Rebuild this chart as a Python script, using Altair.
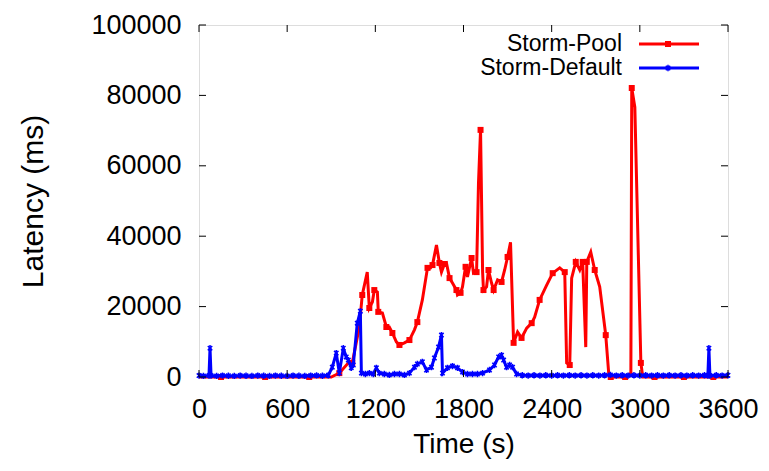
import altair as alt
import pandas as pd

# ---- data ----
series_names = ["Storm-Pool", "Storm-Default"]

red_time = [0, 150, 300, 450, 600, 750, 900, 955, 1023, 1043, 1091, 1111, 1145, 1159, 1180,
            1193, 1214, 1220, 1248, 1275, 1295, 1316, 1343, 1364, 1398, 1432, 1466, 1486, 1520,
            1555, 1575, 1589, 1616, 1636, 1650, 1670, 1684, 1705, 1725, 1752, 1759, 1780, 1793,
            1814, 1827, 1855, 1868, 1889, 1902, 1916, 1930, 1936, 1957, 1970, 1991, 2005, 2032,
            2059, 2080, 2100, 2120, 2141, 2168, 2195, 2230, 2264, 2284, 2318, 2366, 2407, 2455,
            2489, 2502, 2523, 2536, 2564, 2591, 2611, 2632, 2639, 2666, 2693, 2727, 2768, 2789,
            2802, 2850, 2900, 2939, 2945, 2966, 3007, 3020, 3100, 3200, 3300, 3400, 3500, 3600]
red_latency = [0, 0, 0, 0, 0, 0, 0, 1100, 4300, 4000, 14200, 23300, 29800, 19600, 21300,
               24700, 24100, 18500, 18200, 14200, 14200, 12500, 10000, 9100, 9700, 10500, 13400, 15600, 21900,
               31000, 31000, 31800, 37500, 32400, 29800, 32100, 32400, 28100, 26700, 24700, 23300, 23900, 25600,
               31300, 28400, 33800, 29500, 29800, 55100, 70200, 29800, 24700, 25600, 30400, 26700, 24700, 27600,
               27000, 30400, 34100, 38300, 9700, 12800, 11100, 13900, 15300, 17000, 21900, 26100, 29500, 31000,
               29800, 4000, 3400, 28100, 32700, 30400, 32700, 8500, 32700, 35500, 30400, 25600, 11900, 600,
               0, 0, 0, 1100, 82100, 76700, 4000, 0, 0, 0, 0, 0, 0, 0]

blue_time = [0, 30, 68, 75, 82, 120, 160, 200, 240, 280, 320, 360, 400, 440, 480, 520, 560, 600,
             640, 680, 720, 760, 800, 840, 880, 907, 934, 955, 982, 1002, 1016, 1036, 1050, 1077,
             1098, 1105, 1132, 1159, 1186, 1207, 1227, 1261, 1295, 1330, 1364, 1398, 1432, 1466,
             1486, 1520, 1548, 1582, 1602, 1630, 1650, 1657, 1691, 1725, 1759, 1793, 1827, 1861,
             1895, 1930, 1977, 2011, 2039, 2059, 2073, 2093, 2114, 2134, 2161, 2200, 2240, 2280,
             2320, 2360, 2400, 2440, 2480, 2520, 2560, 2600, 2640, 2680, 2720, 2760, 2800, 2840,
             2880, 2920, 2960, 3000, 3040, 3080, 3120, 3160, 3200, 3240, 3280, 3320, 3360, 3400,
             3440, 3463, 3470, 3477, 3520, 3560, 3600]
blue_latency = [400, 300, 400, 8200, 400, 300, 400, 350, 300, 400, 350, 300, 400, 350, 300, 400, 350, 300,
                400, 350, 300, 400, 450, 350, 500, 2800, 6800, 1100, 8200, 5700, 4800, 2600, 3400, 15300,
                18700, 1100, 850, 1100, 850, 2600, 1100, 850, 600, 850, 850, 600, 1100, 2800,
                3700, 4300, 2000, 2800, 5400, 8500, 11900, 1100, 2600, 3100, 2600, 1400, 850, 850,
                850, 1100, 2000, 3400, 5700, 6200, 4800, 2800, 3400, 2800, 850, 500, 400, 500,
                400, 500, 400, 500, 400, 500, 400, 500, 400, 500, 400, 500, 600, 400,
                500, 400, 500, 400, 500, 400, 500, 400, 500, 400, 500, 400, 500, 400,
                500, 400, 8200, 400, 500, 400, 500]

x_ticks = [0, 600, 1200, 1800, 2400, 3000, 3600]
y_ticks = [0, 20000, 40000, 60000, 80000, 100000]

# ---- chart ----
FONT = "Liberation Sans"
W, H = 529, 352
RED = "#ff0000"
BLUE = "#0000ff"

df_red = pd.DataFrame({"t": red_time, "v": red_latency})
df_blue = pd.DataFrame({"t": blue_time, "v": blue_latency})
df_xt = pd.DataFrame({"t": x_ticks})
df_yt = pd.DataFrame({"v": y_ticks})

X = alt.X("t:Q", scale=alt.Scale(domain=[0, 3600], nice=False, zero=False),
          axis=alt.Axis(values=x_ticks, title="Time (s)", grid=False, ticks=False, tickSize=0,
                        domain=False, labelFont=FONT, labelFontSize=27, labelColor="black",
                        labelPadding=19, titleFont=FONT, titleFontSize=28, titleFontWeight="normal",
                        titleColor="black", titlePadding=8, labelFlush=False, format="d"))
Y = alt.Y("v:Q", scale=alt.Scale(domain=[0, 100000], nice=False),
          axis=alt.Axis(values=y_ticks, title="Latency (ms)", grid=False, ticks=False, tickSize=0,
                        domain=False, labelFont=FONT, labelFontSize=27, labelColor="black",
                        labelPadding=18, titleFont=FONT, titleFontSize=30, titleFontWeight="normal",
                        titleColor="black", titlePadding=42, format="d", labelFlush=False))

red_line = alt.Chart(df_red).mark_line(color=RED, strokeWidth=3, clip=False).encode(x=X, y=Y)
red_pts = (alt.Chart(df_red)
           .transform_window(idx="row_number()")
           .transform_filter("datum.idx % 2 == 0")
           .mark_point(shape="square", filled=True, size=36, color=RED, opacity=1)
           .encode(x=X, y=Y))
blue_line = alt.Chart(df_blue).mark_line(color=BLUE, strokeWidth=3, clip=False).encode(x=X, y=Y)
AST = "M-0.7,-0.7L0.7,0.7M-0.7,0.7L0.7,-0.7M0,-1L0,1"
blue_pts = alt.Chart(df_blue).mark_point(shape=AST, filled=False, size=40, strokeWidth=1.5,
                                         color=BLUE, opacity=1).encode(x=X, y=Y)

tick_len = 7
xt_bot = alt.Chart(df_xt).mark_rule(color="black", strokeWidth=1).encode(
    x=X, y=alt.value(H), y2=alt.value(H - tick_len))
xt_top = alt.Chart(df_xt).mark_rule(color="black", strokeWidth=1).encode(
    x=X, y=alt.value(0), y2=alt.value(tick_len))
yt_left = alt.Chart(df_yt).mark_rule(color="black", strokeWidth=1).encode(
    y=Y, x=alt.value(0), x2=alt.value(tick_len))
yt_right = alt.Chart(df_yt).mark_rule(color="black", strokeWidth=1).encode(
    y=Y, x=alt.value(W - tick_len), x2=alt.value(W))

# legend (gnuplot style: text right-aligned, then sample)
leg_layers = []
for i, (name, col) in enumerate(zip(series_names, [RED, BLUE])):
    yy = 19 + 24 * i
    d = pd.DataFrame({"name": [name]})
    leg_layers.append(alt.Chart(d).mark_text(align="right", baseline="middle", font=FONT,
                                             fontSize=23, color="black")
                      .encode(x=alt.value(423), y=alt.value(yy), text="name:N"))
    leg_layers.append(alt.Chart(d).mark_rule(color=col, strokeWidth=3)
                      .encode(x=alt.value(440), x2=alt.value(500), y=alt.value(yy)))
    if i == 0:
        leg_layers.append(alt.Chart(d).mark_point(shape="square", filled=True, size=36, color=col,
                                                  opacity=1)
                          .encode(x=alt.value(469), y=alt.value(yy)))
    else:
        leg_layers.append(alt.Chart(d).mark_point(shape=AST, filled=False, size=40, strokeWidth=1.5,
                                                  color=col, opacity=1)
                          .encode(x=alt.value(469), y=alt.value(yy)))

chart = alt.layer(red_line, red_pts, blue_line, blue_pts, xt_bot, xt_top, yt_left, yt_right,
                  *leg_layers).properties(
    width=W, height=H,
    autosize=alt.AutoSizeParams(type="none"),
    padding={"left": 191, "top": 17, "right": 32, "bottom": 85},
).configure_view(stroke="black", strokeWidth=1).configure(background="white")

chart.save("out.html", embed_options={"renderer": "svg", "actions": False})
